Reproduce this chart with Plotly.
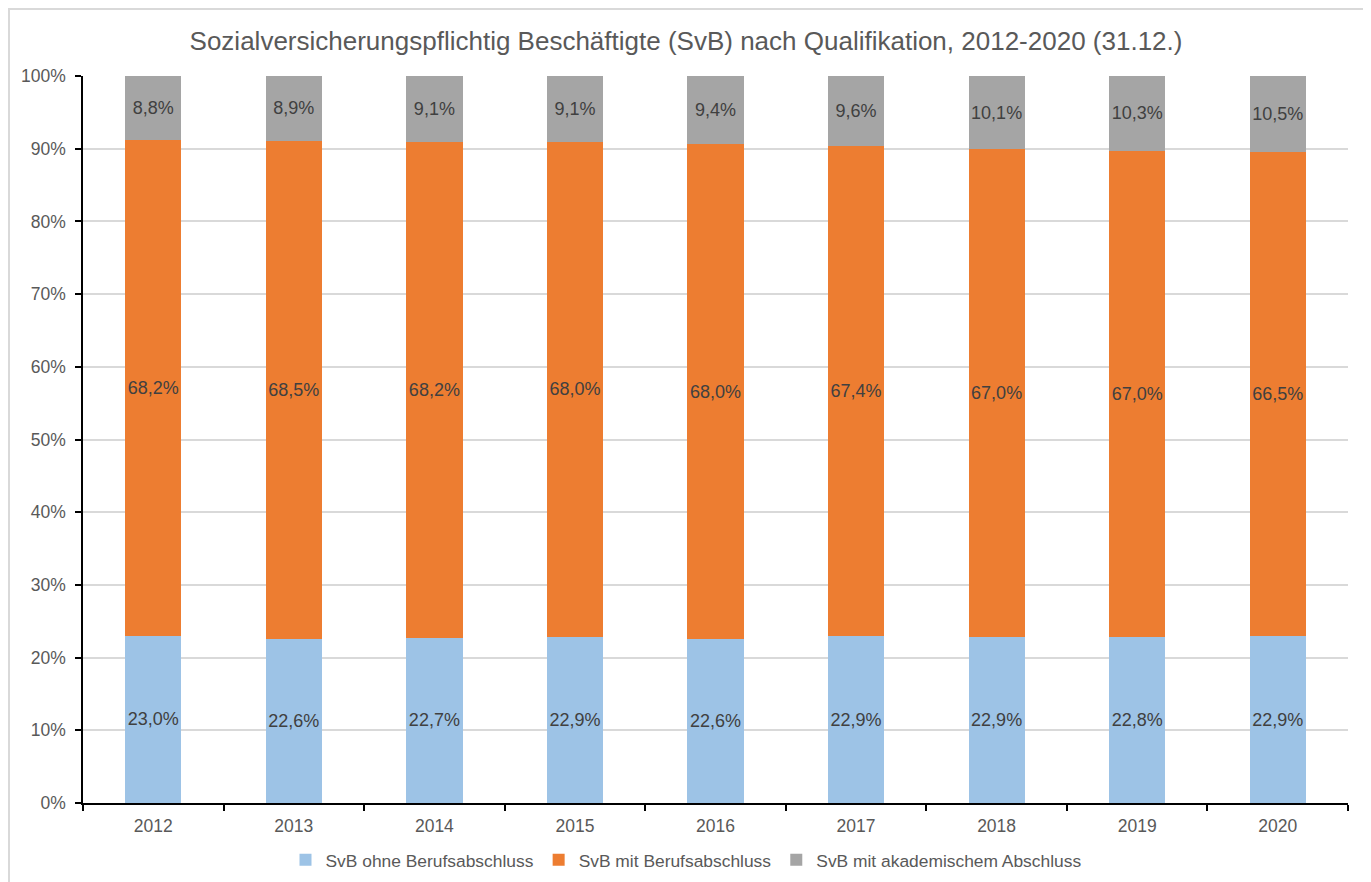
import plotly.graph_objects as go

years = ["2012", "2013", "2014", "2015", "2016", "2017", "2018", "2019", "2020"]
ohne = [23.0, 22.6, 22.7, 22.9, 22.6, 22.9, 22.9, 22.8, 22.9]
mit = [68.2, 68.5, 68.2, 68.0, 68.0, 67.4, 67.0, 67.0, 66.5]
akad = [8.8, 8.9, 9.1, 9.1, 9.4, 9.6, 10.1, 10.3, 10.5]

series = [
    ("SvB ohne Berufsabschluss", ohne, "#9DC3E6"),
    ("SvB mit Berufsabschluss", mit, "#ED7D31"),
    ("SvB mit akademischem Abschluss", akad, "#A5A5A5"),
]

FONT = "Liberation Sans, Arial, sans-serif"

fig = go.Figure()
for name, vals, col in series:
    fig.add_trace(go.Bar(
        x=years, y=vals, name=name,
        marker=dict(color=col, line=dict(width=0)),
        text=[f"{v:.1f}".replace(".", ",") + "%" for v in vals],
        textposition="inside", insidetextanchor="middle",
        textangle=0, constraintext="none",
        textfont=dict(family=FONT, size=18, color="#404040"),
        hoverinfo="skip",
    ))

# page is offset by 8px body margin; coordinates below are page pixels
OFF = 8
W, H = 1360, 882 - OFF
L, R, T, B = 83 - OFF, 1348 - OFF, 76 - OFF, 803 - OFF
pw, ph = R - L, B - T

def px_x(x):
    return (x - OFF - L) / pw

def px_y(y):
    return (B - (y - OFF)) / ph

def cx(x):
    return (x - OFF) / W

def cy(y):
    return 1 - (y - OFF) / H

fig.update_layout(
    width=W, height=H, autosize=False,
    margin=dict(l=L, r=W - R, t=T, b=H - B, autoexpand=False),
    barmode="stack", barnorm="percent", bargap=0.6,
    paper_bgcolor="white", plot_bgcolor="white",
    font=dict(family=FONT, color="#595959"),
    title=dict(
        text="Sozialversicherungspflichtig Beschäftigte (SvB) nach Qualifikation, 2012-2020 (31.12.)",
        x=cx(686), xref="container", xanchor="center",
        y=cy(41), yref="container", yanchor="middle",
        font=dict(family=FONT, size=26, color="#595959"),
    ),
    xaxis=dict(
        showline=True, linecolor="black", linewidth=1.5,
        ticks="outside", tickson="boundaries", ticklen=6, tickcolor="black", tickwidth=1.5,
        tickfont=dict(family=FONT, size=17.5, color="#595959"),
        ticklabelstandoff=6,
        showgrid=False, fixedrange=True, automargin=False,
    ),
    yaxis=dict(
        range=[0, 100], dtick=10, ticksuffix="%",
        showline=True, linecolor="black", linewidth=1.5,
        ticks="outside", ticklen=6, tickcolor="black", tickwidth=1.5,
        showgrid=True, gridcolor="#D9D9D9", gridwidth=1.5,
        zeroline=False,
        tickfont=dict(family=FONT, size=17.5, color="#595959"),
        ticklabelstandoff=6,
        fixedrange=True, automargin=False,
    ),
    legend=dict(
        orientation="h", x=px_x(686), xref="paper", xanchor="center",
        y=px_y(860), yanchor="middle",
        font=dict(family=FONT, size=17.4, color="#595959"),
        traceorder="normal",
    ),
    shapes=[dict(
        type="rect", xref="paper", yref="paper",
        x0=px_x(9), x1=px_x(1366), y0=px_y(900), y1=px_y(9),
        line=dict(color="#D9D9D9", width=2), fillcolor="rgba(0,0,0,0)",
        layer="below",
    )],
)

fig.write_html("out.html")
